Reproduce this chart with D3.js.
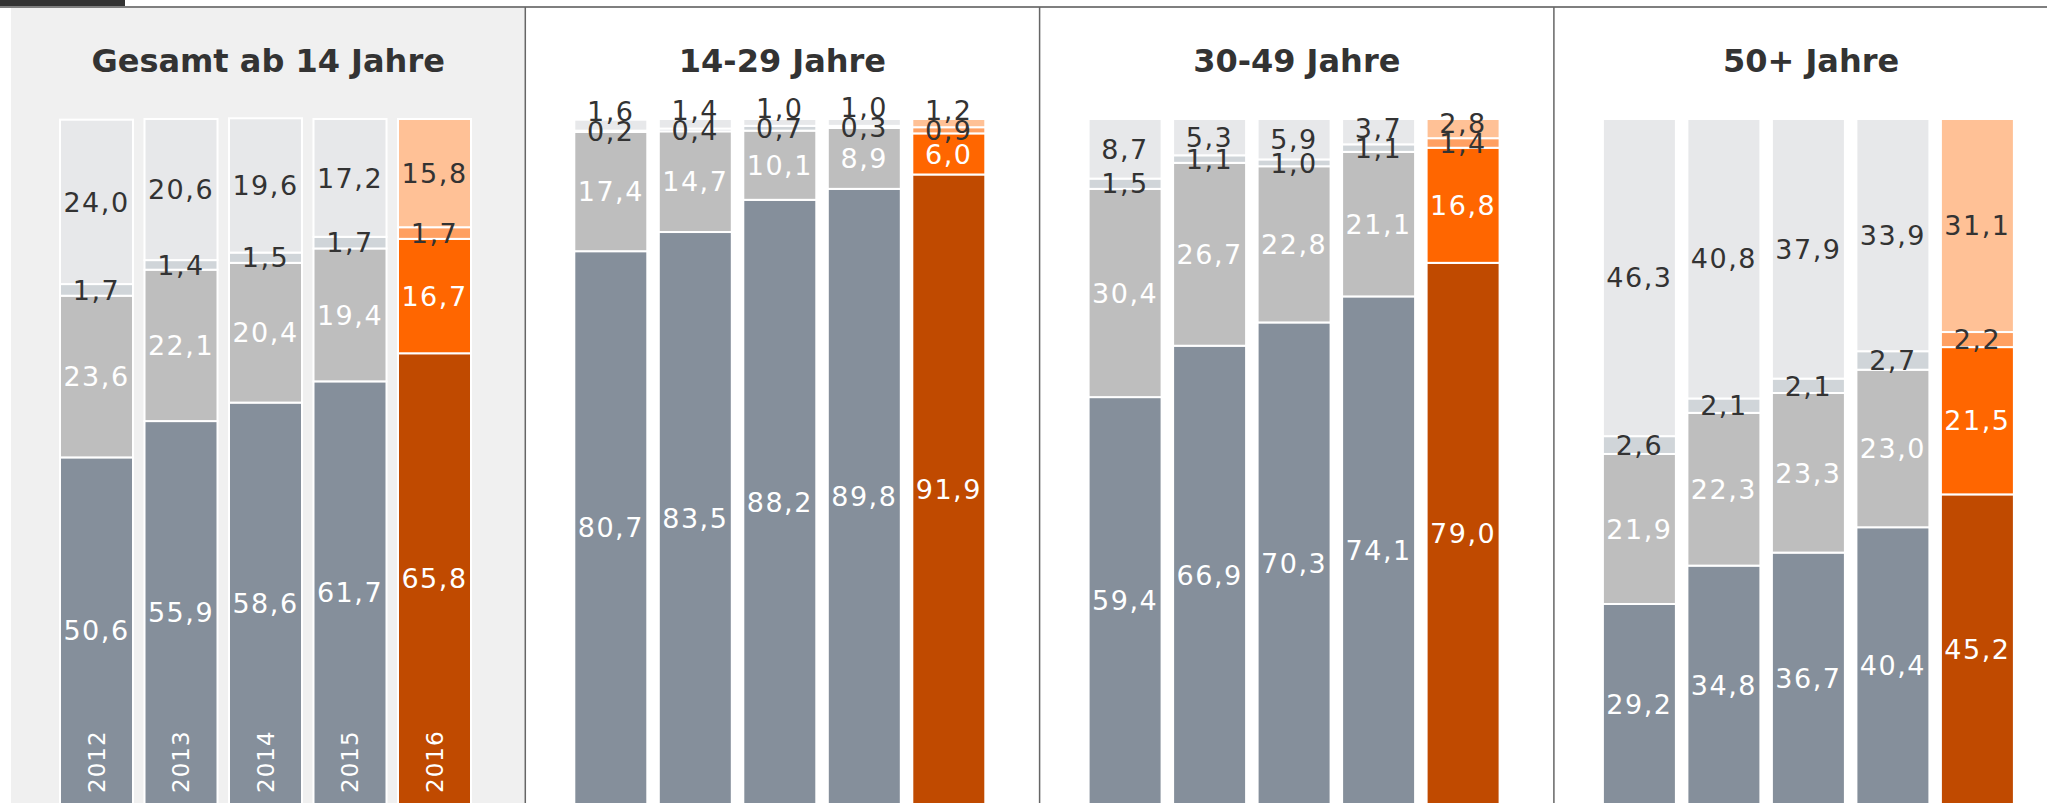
<!DOCTYPE html>
<html>
<head>
<meta charset="utf-8">
<script src="https://cdn.jsdelivr.net/npm/d3@7"></script>
<style>
  html, body { margin: 0; padding: 0; background: #fff; }
  svg { display: block; }
</style>
</head>
<body>
<svg id="chart"></svg>
<script>
const years = ["2012", "2013", "2014", "2015", "2016"];
const groups = ["Gesamt ab 14 Jahre", "14-29 Jahre", "30-49 Jahre", "50+ Jahre"];

// one row per group, one value per year (bottom to top: A, B, C, D)
const valuesA = [
    [50.6, 55.9, 58.6, 61.7, 65.8],
    [80.7, 83.5, 88.2, 89.8, 91.9],
    [59.4, 66.9, 70.3, 74.1, 79.0],
    [29.2, 34.8, 36.7, 40.4, 45.2]
];
const valuesB = [
    [23.6, 22.1, 20.4, 19.4, 16.7],
    [17.4, 14.7, 10.1, 8.9, 6.0],
    [30.4, 26.7, 22.8, 21.1, 16.8],
    [21.9, 22.3, 23.3, 23.0, 21.5]
];
const valuesC = [
    [1.7, 1.4, 1.5, 1.7, 1.7],
    [0.2, 0.4, 0.7, 0.3, 0.9],
    [1.5, 1.1, 1.0, 1.1, 1.4],
    [2.6, 2.1, 2.1, 2.7, 2.2]
];
const valuesD = [
    [24.0, 20.6, 19.6, 17.2, 15.8],
    [1.6, 1.4, 1.0, 1.0, 1.2],
    [8.7, 5.3, 5.9, 3.7, 2.8],
    [46.3, 40.8, 37.9, 33.9, 31.1]
];

const keys = ["A", "B", "C", "D"];
const greyColors = { A: "#858f9b", B: "#bebebe", C: "#d0d5d9", D: "#e7e8ea" };
const hiColors = { A: "#c04a00", B: "#ff6600", C: "#ffa062", D: "#ffc196" };
const labelColors = { A: "#ffffff", B: "#ffffff", C: "#333333", D: "#333333" };

const width = 2047;
const height = 803;

const svg = d3.select("#chart")
    .attr("width", width)
    .attr("height", height);

const de = d3.formatLocale({ decimal: ",", thousands: ".", grouping: [3], currency: ["", " €"] });
const fmt = de.format(".1f");

const panel = d3.scaleBand()
    .domain(groups)
    .range([11, 11 + 4 * 514.3]);

const y = d3.scaleLinear()
    .domain([0, 100])
    .range([804, 119]);

const step = 84.5, barW = 73;

// grey background of the first panel
svg.append("rect")
    .attr("x", panel(groups[0]))
    .attr("y", 8)
    .attr("width", panel.bandwidth())
    .attr("height", height - 8)
    .attr("fill", "#f0f0f0");

// header strip
svg.append("rect")
    .attr("x", 0).attr("y", 0)
    .attr("width", 125).attr("height", 6)
    .attr("fill", "#333");
svg.append("line")
    .attr("x1", 0).attr("x2", width)
    .attr("y1", 7).attr("y2", 7)
    .attr("stroke", "#555").attr("stroke-width", 1.5);

// panel dividers
groups.slice(1).forEach(g => {
    svg.append("line")
        .attr("x1", panel(g)).attr("x2", panel(g))
        .attr("y1", 7).attr("y2", height)
        .attr("stroke", "#666").attr("stroke-width", 1.5);
});

const stack = d3.stack().keys(keys);

groups.forEach((g, gi) => {
    const p = panel(g);
    const x = d3.scaleBand()
        .domain(years)
        .range([p + 49, p + 49 + 4 * step + barW])
        .paddingInner((step - barW) / step)
        .paddingOuter(0);

    const rows = years.map((yr, i) => ({
        year: yr,
        A: valuesA[gi][i], B: valuesB[gi][i], C: valuesC[gi][i], D: valuesD[gi][i]
    }));
    const series = stack(rows);

    const gPanel = svg.append("g");

    gPanel.append("text")
        .attr("x", p + panel.bandwidth() / 2)
        .attr("y", 72)
        .attr("text-anchor", "middle")
        .style("font-family", "DejaVu Sans, sans-serif")
        .style("font-weight", "bold")
        .style("font-size", "32px")
        .style("fill", "#333")
        .text(g);

    series.forEach(s => {
        gPanel.selectAll(null)
            .data(s)
            .enter().append("rect")
            .attr("x", d => x(d.data.year))
            .attr("y", d => y(d[1]))
            .attr("width", x.bandwidth())
            .attr("height", d => y(d[0]) - y(d[1]))
            .attr("fill", d => d.data.year === "2016" ? hiColors[s.key] : greyColors[s.key])
            .attr("stroke", "#fff")
            .attr("stroke-width", 2);
    });

    // labels, pushed upward when segments are too thin
    years.forEach((yr, i) => {
        let prev = Infinity;
        series.forEach(s => {
            const d = s[i];
            let cy = (y(d[0]) + y(d[1])) / 2;
            cy = Math.min(cy, prev - 20);
            prev = cy;
            gPanel.append("text")
                .attr("x", x(yr) + barW / 2)
                .attr("y", cy)
                .attr("dy", "0.36em")
                .attr("text-anchor", "middle")
                .style("font-family", "DejaVu Sans, sans-serif")
                .style("font-size", "27px")
                .style("letter-spacing", "1.5px")
                .style("fill", labelColors[s.key])
                .text(fmt(d[1] - d[0]));
        });
    });

    if (gi === 0) {
        gPanel.selectAll(null)
            .data(years)
            .enter().append("text")
            .attr("transform", d => `translate(${x(d) + barW / 2 + 8},793) rotate(-90)`)
            .style("font-family", "DejaVu Sans, sans-serif")
            .style("font-size", "23px")
            .style("letter-spacing", "1px")
            .style("fill", "#fff")
            .text(d => d);
    }
});
</script>
</body>
</html>
